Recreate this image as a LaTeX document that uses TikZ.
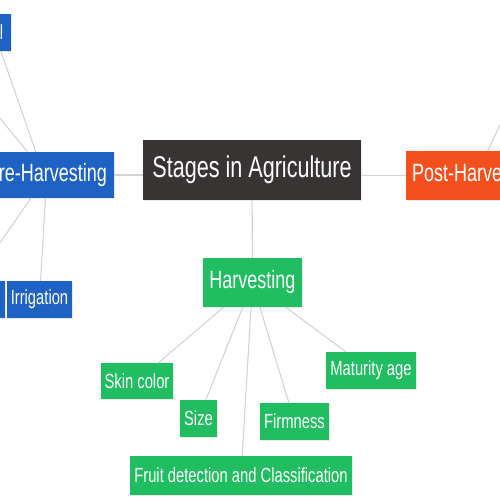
\documentclass[tikz,border=0pt]{standalone}
\usepackage{fontspec}
\setmainfont{Liberation Sans}[FakeStretch=0.72]
\usetikzlibrary{shadows}
\definecolor{gblue}{RGB}{30,98,196}
\definecolor{gdark}{RGB}{56,52,52}
\definecolor{gorange}{RGB}{244,80,30}
\definecolor{ggreen}{RGB}{32,190,96}
\definecolor{glink}{RGB}{212,212,212}
\begin{document}
\begin{tikzpicture}[x=1pt,y=-1pt,
  box/.style={draw=none, text=white, inner sep=0pt, align=center,
    drop shadow={opacity=0.18, shadow xshift=0.8pt, shadow yshift=-0.8pt}},
  bigtxt/.style={font=\fontsize{30}{36}\selectfont},
  midtxt/.style={font=\fontsize{25}{30}\selectfont},
  smalltxt/.style={font=\fontsize{20.5}{24}\selectfont},
  bluebox/.style={box, fill=gblue, smalltxt, minimum height=37pt},
  greenbox/.style={box, fill=ggreen, smalltxt, minimum height=37pt},
  link/.style={draw=glink, line width=1.1pt}]
\useasboundingbox (0,0) rectangle (500,500);
\clip (0,0) rectangle (500,500);
\fill[white] (0,0) rectangle (500,500);

% links first
\coordinate (pre1) at (-65,40);
\coordinate (post1) at (540,40);

% main nodes
\node[box, fill=gdark, bigtxt, minimum width=218pt, minimum height=60pt] (stages) at (252,170) {Stages in Agriculture};
\node[box, fill=gblue, midtxt, minimum width=134pt, minimum height=46pt, anchor=east] (pre) at (114,175) {Pre-Harvesting};
\node[box, fill=gorange, midtxt, minimum width=140pt, minimum height=49pt, anchor=west] (post) at (406,175.5) {Post-Harvesting};
\node[box, fill=ggreen, midtxt, minimum width=99pt, minimum height=49pt] (harv) at (252.5,282.5) {Harvesting};

% pre-harvesting children
\node[bluebox, minimum width=40pt, anchor=east] (soil) at (11,32.5) {Soil};
\node[bluebox, minimum width=88pt, anchor=east] (fert) at (5,299.5) {Fertilization};
\node[bluebox, minimum width=65pt] (irr) at (39.5,299.5) {Irrigation};

% harvesting children
\node[greenbox, minimum width=72pt, minimum height=36pt] (skin) at (137,381) {Skin color};
\node[greenbox, minimum width=37pt] (size) at (198.5,418.5) {Size};
\node[greenbox, minimum width=69pt] (firm) at (294.5,421.5) {Firmness};
\node[greenbox, minimum width=90pt] (mat) at (371,370.5) {Maturity age};
\node[greenbox, minimum width=222pt, minimum height=39pt] (fruit) at (241,475.5) {Fruit detection and Classification};

% connectors
\draw[link] (pre.east) -- (pre.east -| stages.west);
\draw[link] (post.west) -- (post.west -| stages.east);
\draw[link] (stages) -- (harv);
\draw[link] (post) -- (post1);
\draw[link] ([xshift=10pt]soil.south) -- ([xshift=-11pt]pre.north);
\draw[link] (pre) -- (pre1);
\draw[link] (pre) -- (fert);
\draw[link] (pre) -- (irr);
\draw[link] (harv) -- (skin);
\draw[link] (harv) -- (size);
\draw[link] (harv) -- (fruit);
\draw[link] (harv) -- (firm);
\draw[link] (harv) -- (mat);
\end{tikzpicture}
\end{document}
